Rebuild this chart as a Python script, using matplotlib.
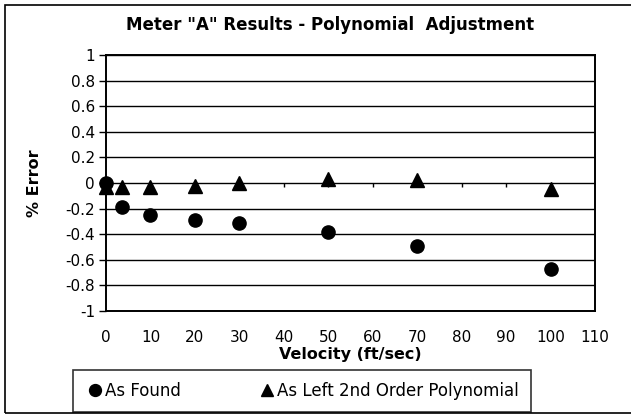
import matplotlib
matplotlib.use("Agg")
import matplotlib.pyplot as plt
from matplotlib.patches import Rectangle

plt.rcParams['font.family'] = ['DejaVu Sans']

velocity = [0, 3.5, 10, 20, 30, 50, 70, 100]
as_found = [0.0, -0.19, -0.25, -0.29, -0.31, -0.38, -0.49, -0.67]
as_left = [-0.03, -0.03, -0.03, -0.02, 0.0, 0.03, 0.02, -0.05]
xticks = list(range(0, 111, 10))
yticks = [1, 0.8, 0.6, 0.4, 0.2, 0, -0.2, -0.4, -0.6, -0.8, -1]
ytick_labels = ['1', '0.8', '0.6', '0.4', '0.2', '0', '-0.2', '-0.4', '-0.6', '-0.8', '-1']

W, H = 631, 415
fig = plt.figure(figsize=(W / 100, H / 100), dpi=100)
ax = fig.add_axes([106 / W, 1 - 311 / H, (595 - 106) / W, (311 - 55) / H])

ax.set_xlim(0, 110)
ax.set_ylim(-1, 1)
for y in yticks:
    ax.axhline(y, color='black', lw=1.0, zorder=1)
ax.set_yticks(yticks)
ax.set_yticklabels(ytick_labels)
ax.set_xticks(xticks)
ax.tick_params(axis='x', length=0, labelsize=11, pad=14)
ax.tick_params(axis='y', length=5, width=1, labelsize=11, direction='out', pad=3)
# ticks along the zero line
ax.vlines(xticks, 0, -0.035, color='black', lw=1, zorder=2)
for s in ax.spines.values():
    s.set_linewidth(1.4)
    s.set_color('black')

ax.plot(velocity, as_found, 'o', color='black', ms=9.5, ls='none', label='As Found', zorder=3, clip_on=False)
ax.plot(velocity, as_left, '^', color='black', ms=10, ls='none', label='As Left 2nd Order Polynomial', zorder=3, clip_on=False)

ax.set_xlabel('Velocity (ft/sec)', fontsize=11.5, fontweight='bold', labelpad=1)
ax.set_ylabel('% Error', fontsize=11.5, fontweight='bold', labelpad=17)
fig.text(330 / W, 1 - 25 / H, 'Meter "A" Results - Polynomial  Adjustment', ha='center', va='center',
         fontsize=12, fontweight='bold')

h, l = ax.get_legend_handles_labels()
leg = fig.legend(h, l, loc='center', bbox_to_anchor=(302 / W, 1 - 391 / H), ncol=2, frameon=True,
                 fontsize=12, fancybox=False, edgecolor='black', handletextpad=0.0,
                 columnspacing=4.6, handlelength=1.2, borderpad=0.7, markerscale=0.9)
leg.get_frame().set_linewidth(1.2)

fig.patches.append(Rectangle((5 / W, 2 / H), 640 / W, 408 / H, transform=fig.transFigure,
                             fill=False, edgecolor='black', lw=1.2))

fig.savefig('out.png', dpi=100)
